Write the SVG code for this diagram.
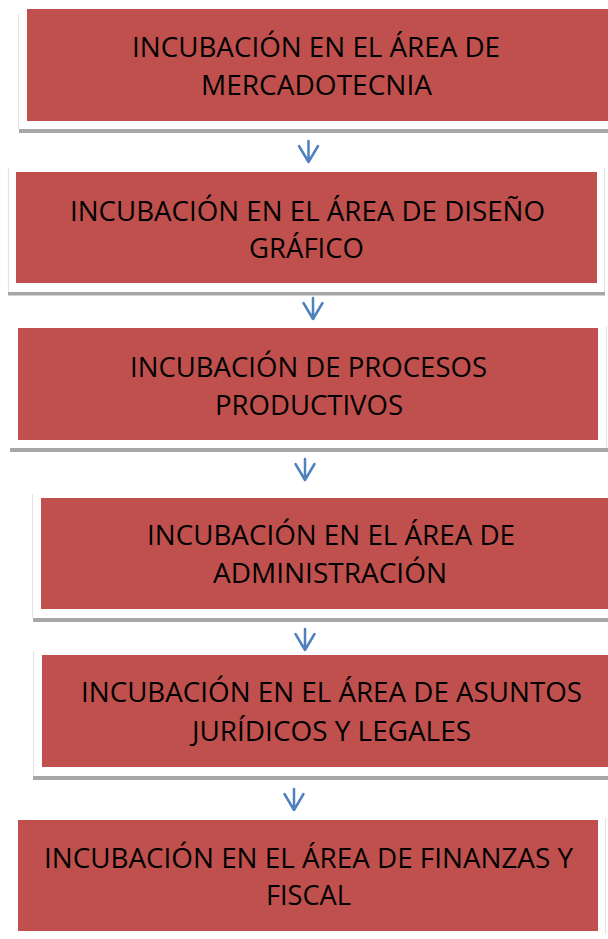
<svg xmlns="http://www.w3.org/2000/svg" width="608" height="939" viewBox="0 0 608 939">
<defs>
<style>
.edge{fill:none;stroke:#e3e3e3;stroke-width:1.2}
.shadow{fill:#a6a6a6}
.box{fill:#c0504d}
.lbl{font-family:"Open Sans","Liberation Sans",sans-serif;font-size:27px;fill:#000000;text-anchor:middle}
.arr{fill:none;stroke:#4f81bd;stroke-width:2.5;stroke-linecap:round;stroke-linejoin:round}
</style>
</defs>
<rect width="608" height="939" fill="#ffffff"/>
<g id="node1">
<path class="edge" d="M18.5 14V129"/>
<rect class="shadow" x="19" y="129" width="589" height="4"/>
<rect class="box" x="27" y="9" width="581" height="112"/>
<text class="lbl" x="316" y="57" textLength="368" lengthAdjust="spacingAndGlyphs">INCUBACIÓN EN EL ÁREA DE</text>
<text class="lbl" x="316.5" y="95" textLength="231" lengthAdjust="spacingAndGlyphs">MERCADOTECNIA</text>
</g>
<g id="node2">
<path class="edge" d="M8.5 168V292M604.5 168V292"/>
<rect class="shadow" x="8" y="292" width="597" height="3.5"/>
<rect class="box" x="16" y="172" width="581" height="111"/>
<text class="lbl" x="307.5" y="221" textLength="475" lengthAdjust="spacingAndGlyphs">INCUBACIÓN EN EL ÁREA DE DISEÑO</text>
<text class="lbl" x="306.5" y="258" textLength="115" lengthAdjust="spacingAndGlyphs">GRÁFICO</text>
</g>
<g id="node3">
<path class="edge" d="M606.5 326V448"/>
<rect class="shadow" x="10" y="448" width="598" height="4"/>
<rect class="box" x="18" y="328" width="580" height="112"/>
<text class="lbl" x="308.5" y="377" textLength="357" lengthAdjust="spacingAndGlyphs">INCUBACIÓN DE PROCESOS</text>
<text class="lbl" x="309" y="415" textLength="188" lengthAdjust="spacingAndGlyphs">PRODUCTIVOS</text>
</g>
<g id="node4">
<path class="edge" d="M32.5 494V618"/>
<rect class="shadow" x="33" y="618" width="575" height="4"/>
<rect class="box" x="41" y="498" width="567" height="111"/>
<text class="lbl" x="331" y="545" textLength="368" lengthAdjust="spacingAndGlyphs">INCUBACIÓN EN EL ÁREA DE</text>
<text class="lbl" x="330" y="583" textLength="234" lengthAdjust="spacingAndGlyphs">ADMINISTRACIÓN</text>
</g>
<g id="node5">
<path class="edge" d="M33.5 651V776"/>
<rect class="shadow" x="33" y="776" width="575" height="4"/>
<rect class="box" x="42" y="655" width="566" height="112"/>
<text class="lbl" x="331.5" y="702" textLength="501" lengthAdjust="spacingAndGlyphs">INCUBACIÓN EN EL ÁREA DE ASUNTOS</text>
<text class="lbl" x="331.5" y="741" textLength="279" lengthAdjust="spacingAndGlyphs">JURÍDICOS Y LEGALES</text>
</g>
<g id="node6">
<path class="edge" d="M605.5 818V934"/>
<rect class="box" x="18" y="820" width="580" height="111"/>
<text class="lbl" x="308.5" y="868" textLength="529" lengthAdjust="spacingAndGlyphs">INCUBACIÓN EN EL ÁREA DE FINANZAS Y</text>
<text class="lbl" x="308.5" y="905" textLength="85" lengthAdjust="spacingAndGlyphs">FISCAL</text>
</g>
<g id="connectors">
<path class="arr" d="M308.5 141V162M299 146L308.5 162L318 146"/>
<path class="arr" d="M313 298V319M303.5 303L313 319L322.5 303"/>
<path class="arr" d="M305 459V480M295.5 464L305 480L314.5 464"/>
<path class="arr" d="M305 629V650M295.5 634L305 650L314.5 634"/>
<path class="arr" d="M294 789V810M284.5 794L294 810L303.5 794"/>
</g>
</svg>
